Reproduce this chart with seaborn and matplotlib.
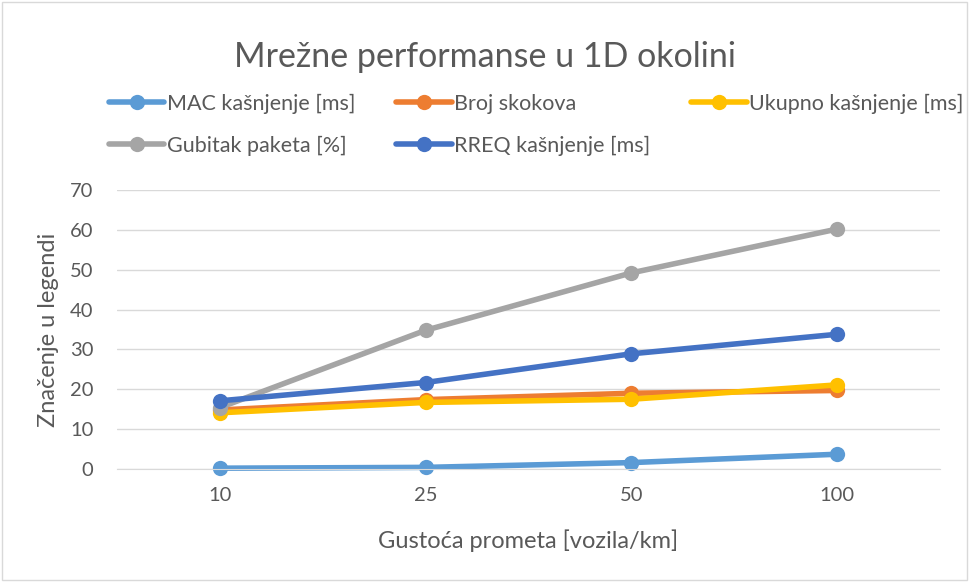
import pandas as pd
import matplotlib
matplotlib.use('Agg')
import matplotlib.pyplot as plt
from matplotlib.patches import Rectangle
import seaborn as sns

sns.set_style('white')
plt.rcParams['font.family'] = ['Lato', 'DejaVu Sans']

gustoca = ['10', '25', '50', '100']
mac_kasnjenje = [0.2, 0.4, 1.6, 3.7]
broj_skokova = [14.8, 17.4, 19.0, 19.7]
ukupno_kasnjenje = [14.1, 16.7, 17.5, 21.1]
gubitak_paketa = [15.4, 34.8, 49.2, 60.2]
rreq_kasnjenje = [17.1, 21.7, 28.9, 33.8]

serije = {
    'MAC kašnjenje [ms]': mac_kasnjenje,
    'Broj skokova': broj_skokova,
    'Ukupno kašnjenje [ms]': ukupno_kasnjenje,
    'Gubitak paketa [%]': gubitak_paketa,
    'RREQ kašnjenje [ms]': rreq_kasnjenje,
}
boje = ['#5B9BD5', '#ED7D31', '#FFC000', '#A5A5A5', '#4472C4']

df = pd.concat([
    pd.DataFrame({'Gustoca': gustoca, 'Vrijednost': v, 'Serija': ime})
    for ime, v in serije.items()
])

fig = plt.figure(figsize=(9.69, 5.82), dpi=100)
ax = fig.add_axes([0.1207, 0.1942, 0.8493, 0.4793])

sns.lineplot(data=df, x='Gustoca', y='Vrijednost', hue='Serija',
             hue_order=list(serije.keys()), palette=boje, sort=False,
             marker='o', markersize=11, markeredgewidth=0, linewidth=4,
             ax=ax, clip_on=False, legend=False)

ax.set_xlim(-0.5, 3.5)
ax.set_ylim(0, 70)
ax.set_yticks(range(0, 71, 10))
ax.grid(axis='y', color='#D9D9D9', linewidth=1)
for s in ['top', 'right', 'left']:
    ax.spines[s].set_visible(False)
ax.spines['bottom'].set_color('#D9D9D9')
ax.tick_params(axis='both', colors='#595959', labelsize=14.5, length=0)
ax.tick_params(axis='y', pad=17)
ax.tick_params(axis='x', pad=13)
ax.set_xlabel('Gustoća prometa [vozila/km]', fontsize=17, color='#595959')
ax.set_ylabel('Značenje u legendi', fontsize=17, color='#595959')
ax.xaxis.set_label_coords(0.5, -0.215)
ax.yaxis.set_label_coords(-0.071, 0.5)

fig.suptitle('Mrežne performanse u 1D okolini', fontsize=24.5, color='#595959', y=0.93)

linije = ax.get_lines()[:5]
imena = list(serije.keys())
red = [0, 3, 1, 4, 2]
leg = fig.legend([linije[i] for i in red], [imena[i] for i in red],
                 ncol=3, loc='upper left', bbox_to_anchor=(0.092, 0.872),
                 frameon=False, fontsize=15.5, handlelength=2.6, handletextpad=0.1,
                 columnspacing=1.9, labelspacing=1.0)
for t in leg.get_texts():
    t.set_color('#595959')

fig.patches.append(Rectangle((0.002, 0.003), 0.996, 0.994, transform=fig.transFigure,
                             fill=False, edgecolor='#D9D9D9', linewidth=1))

fig.savefig('out.png', dpi=100)
